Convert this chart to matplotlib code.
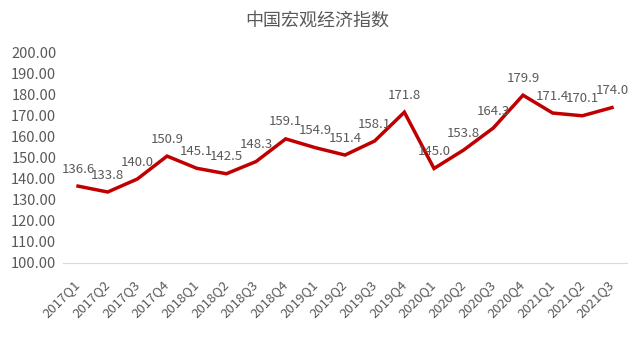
import matplotlib
matplotlib.use("Agg")
import matplotlib.pyplot as plt

plt.rcParams['font.family'] = ['Noto Sans CJK SC', 'DejaVu Sans']

quarters = ["2017Q1", "2017Q2", "2017Q3", "2017Q4", "2018Q1", "2018Q2", "2018Q3", "2018Q4",
            "2019Q1", "2019Q2", "2019Q3", "2019Q4", "2020Q1", "2020Q2", "2020Q3", "2020Q4",
            "2021Q1", "2021Q2", "2021Q3"]
values = [136.6, 133.8, 140.0, 150.9, 145.1, 142.5, 148.3, 159.1,
          154.9, 151.4, 158.1, 171.8, 145.0, 153.8, 164.3, 179.9,
          171.4, 170.1, 174.0]
yticks = [100, 110, 120, 130, 140, 150, 160, 170, 180, 190, 200]
title = "中国宏观经济指数"

gray = "#595959"
fig = plt.figure(figsize=(6.34, 3.37), dpi=100)
ax = fig.add_axes([0.0997, 0.2196, 0.889, 0.6232])
x = list(range(len(quarters)))
ax.plot(x, values, color="#C00000", linewidth=2.5, solid_joinstyle="miter")
for xi, v in zip(x, values):
    ax.annotate(f"{v:.1f}", (xi, v), xytext=(0, 7.5), textcoords="offset points",
                ha="center", va="bottom", fontsize=9.5, color=gray)
ax.set_xlim(-0.5, len(quarters) - 0.5)
ax.set_ylim(100, 200)
ax.set_yticks(yticks)
ax.set_yticklabels([f"{t:.2f}" for t in yticks], fontsize=10.5, color=gray)
ax.set_xticks(x)
ax.set_xticklabels(quarters, rotation=45, ha="right", va="center", rotation_mode="anchor",
                   fontsize=9.5, color=gray)
for s in ["top", "right", "left"]:
    ax.spines[s].set_visible(False)
ax.spines["bottom"].set_color("#D9D9D9")
ax.tick_params(axis="both", length=0)
ax.tick_params(axis="y", pad=5)
ax.tick_params(axis="x", pad=14)
fig.text(0.5, 0.94, title, ha="center", va="center", fontsize=13, color=gray)
fig.savefig("out.png", dpi=100)
